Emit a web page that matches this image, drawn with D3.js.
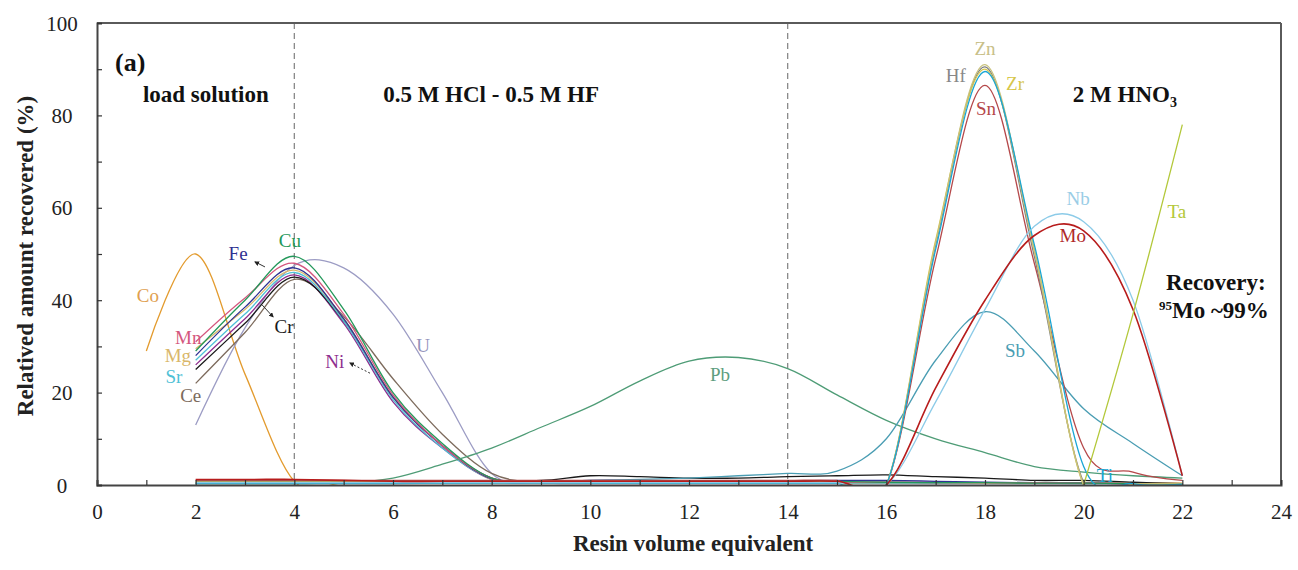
<!DOCTYPE html>
<html>
<head>
<meta charset="utf-8">
<script src="https://cdn.jsdelivr.net/npm/d3@7"></script>
<style>
  html, body { margin: 0; padding: 0; background: #fff; }
  svg { display: block; }
</style>
</head>
<body>
<svg id="chart" width="1298" height="570" font-family="'Liberation Serif', 'DejaVu Serif', serif"></svg>
<script>
// ---------- data ----------
const volumes = [1,2,3,4,5,6,7,8,9,10,11,12,13,14,15,16,17,18,19,20,21,22];
const xTicks = d3.range(0, 25, 1);
const yTicks = d3.range(0, 101, 10);

const Co = [29,50,24,0.8,0.5,0.5,0.4,0.4,0.4,0.4,0.4,0.4,0.4,0.4,0.4,0.4,0.4,0.4,0.4,0.4,0.4,0.4];
const Cu = [null,29,40,49.5,38,20,9,1.5,0.6,0.8,0.8,0.7,0.7,0.8,0.8,0.6,0.5,0.5,0.4,0.4,0.3,0.3];
const Mn = [null,31,40.5,48,37,19.5,8.5,1.5,0.5,0.6,0.6,0.6,0.6,0.6,0.6,0.6,0.5,0.5,0.5,0.4,0.3,0.3];
const Fe = [null,28,38.5,47,36,19,8.5,1.3,0.6,1,1,0.9,0.9,0.9,1,1,0.8,0.6,0.5,0.4,0.3,0.3];
const Mg = [null,29.5,38,46.5,36,19,8.5,1.2,0.4,0.5,0.5,0.5,0.5,0.5,0.5,0.5,0.5,0.4,0.4,0.4,0.3,0.3];
const Sr = [null,27,37,46,35.5,18.5,8,1.2,0.4,0.4,0.4,0.4,0.4,0.4,0.4,0.4,0.4,0.4,0.4,0.3,0.3,0.3];
const Ni = [null,26,36,45.5,35,18,8,1.2,0.4,0.6,0.6,0.6,0.6,0.6,0.6,0.6,0.5,0.5,0.4,0.4,0.3,0.3];
const Cr = [null,25,35,45,35.5,19,8.5,1.5,1,2,1.8,1.5,1.5,1.8,2,2.2,1.8,1.5,1,1,0.6,0.3];
const Ce = [null,22,33,44.5,36.5,23,11,2.5,0.5,0.5,0.5,0.5,0.5,0.5,0.5,0.5,0.5,0.5,0.4,0.4,0.3,0.3];
const U  = [null,13,34,47.5,47,37,20,2.5,0.5,0.3,0.3,0.3,0.3,0.3,0.3,0.3,0.3,0.3,0.3,0.3,0.3,0.3];
const Pb = [null,0.3,0.3,0.3,0.5,1.5,4.5,8,12.5,17,22.5,26.8,27.6,25.2,19.5,14,10,7,4,2.8,2,1.5];
const Sb = [null,0.3,0.3,0.3,0.3,0.3,0.4,0.5,0.8,1,1.2,1.5,2,2.5,3,10,27,37.5,29,16.5,9,2];
const Zn = [null,0.5,0.5,0.5,0.5,0.5,0.5,0.5,0.5,0.5,0.5,0.5,0.5,0.5,0.5,0,52.5,91,50.5,0,0.2,0.2];
const Hf = [null,0.8,0.8,0.8,0.8,0.8,0.8,0.8,0.8,0.8,0.8,0.8,0.8,0.8,0.8,0,52,90.5,49.5,0.5,0.3,0.2];
const Zr = [null,0.6,0.6,0.6,0.6,0.6,0.6,0.6,0.6,0.6,0.6,0.6,0.6,0.6,0.6,0,53,90,51,0,0.2,0.2];
const Ti = [null,0.4,0.4,0.4,0.4,0.4,0.4,0.4,0.4,0.4,0.4,0.4,0.4,0.4,0.4,0,51,89.5,52,4,0.3,0.2];
const Sn = [null,1,1,1,1,1,1,1,1,1,1,1,1,1,1,0,49,86.5,48,8,2.8,1];
const Mo = [null,1.2,1.2,1.2,1,0.8,0.8,0.8,0.8,0.8,0.8,0.8,0.8,0.8,0.8,0,21,40,54,55,38,2];
const Nb = [null,0.5,0.5,0.5,0.5,0.5,0.5,0.5,0.5,0.5,0.5,0.5,0.5,0.5,0.5,0,18,38,56,57,40,2];
const Ta = [null,null,null,null,null,null,null,null,null,null,null,null,null,null,null,null,null,null,null,0,37,78];

const seriesNames = ["Co","U","Ce","Ni","Cr","Sr","Mg","Fe","Mn","Cu","Pb","Sb","Sn","Hf","Zr","Zn","Ti","Nb","Mo","Ta"];
const seriesValues = [Co,U,Ce,Ni,Cr,Sr,Mg,Fe,Mn,Cu,Pb,Sb,Sn,Hf,Zr,Zn,Ti,Nb,Mo,Ta];

// labels: [text, x (volume), y (%)]
const labelNames = ["Co","Mn","Mg","Sr","Ce","Fe","Cu","Cr","Ni","U","Pb","Zn","Hf","Zr","Sn","Nb","Mo","Sb","Ti","Ta"];
const labelX = [1.03,1.85,1.64,1.56,1.9,2.86,3.91,3.79,4.82,6.61,12.63,18.0,17.41,18.61,18.02,19.89,19.78,18.61,20.43,21.89];
const labelY = [39.6,30.6,26.6,22.1,18.0,48.7,51.5,32.9,25.3,28.8,22.5,93.1,87.2,85.5,80.1,60.6,52.6,27.7,0.65,57.8];

// ---------- styles ----------
const FONT = "'Liberation Serif', 'DejaVu Serif', serif";
const colors = {
  Co:"#E39B2E", Mn:"#D4577E", Mg:"#D9B76A", Sr:"#4FC1D6", Ce:"#7D6B5D", Fe:"#2E3192",
  Cu:"#23985A", Cr:"#1A1A1A", Ni:"#8E2D8E", U:"#9C9CC4", Pb:"#4E9C76", Zn:"#C9C27C",
  Hf:"#7F7F7F", Zr:"#D6C64B", Sn:"#B5484A", Ti:"#1AA6D4", Nb:"#8CCBE8", Mo:"#B71C1C",
  Ta:"#B3C83A", Sb:"#4A9DB3"
};
const labelColors = Object.assign({}, colors, {Co:"#E0A050", Zn:"#C8C088", Nb:"#9ACDE6", Mo:"#B02828", Pb:"#5E9E80", U:"#9494BC", Hf:"#888888"});

// ---------- chart ----------
const svg = d3.select("#chart");
const x = d3.scaleLinear().domain([0, 24]).range([97, 1281]);
const y = d3.scaleLinear().domain([0, 100]).range([485, 23]);

svg.append("rect").attr("width", 1298).attr("height", 570).attr("fill", "#fff");

svg.append("defs").append("clipPath").attr("id", "clip")
  .append("rect").attr("x", x(0)).attr("y", y(100)).attr("width", x(24) - x(0)).attr("height", y(0) - y(100));

// dashed separators
[4, 14].forEach(v => {
  svg.append("line")
    .attr("x1", x(v)).attr("x2", x(v)).attr("y1", y(100)).attr("y2", y(0))
    .attr("stroke", "#8a8a8a").attr("stroke-width", 1.3).attr("stroke-dasharray", "6,4");
});

const line = d3.line()
  .defined(d => d[1] !== null)
  .x(d => x(d[0])).y(d => y(d[1]))
  .curve(d3.curveCardinal.tension(0));

const g = svg.append("g").attr("clip-path", "url(#clip)");
seriesNames.forEach((name, i) => {
  const pts = volumes.map((v, j) => [v, seriesValues[i][j]]);
  g.append("path")
    .attr("d", line(pts))
    .attr("fill", "none")
    .attr("stroke", colors[name])
    .attr("stroke-width", name === "Mo" ? 1.6 : 1.3);
});

// frame (top & right)
svg.append("line").attr("x1", x(0)).attr("x2", x(24)).attr("y1", y(100)).attr("y2", y(100))
  .attr("stroke", "#5a5a5a").attr("stroke-width", 2);
svg.append("line").attr("x1", x(24)).attr("x2", x(24)).attr("y1", y(100)).attr("y2", y(0))
  .attr("stroke", "#5a5a5a").attr("stroke-width", 2);

// axes
const xAxis = svg.append("g").attr("transform", `translate(0,${y(0)})`)
  .call(d3.axisBottom(x).tickValues(xTicks).tickSize(-5).tickFormat(d => d % 2 === 0 ? d : ""));
const yAxis = svg.append("g").attr("transform", `translate(${x(0)},0)`)
  .call(d3.axisLeft(y).tickValues(yTicks).tickSize(-5).tickFormat(d => d % 20 === 0 ? d : ""));
[xAxis, yAxis].forEach(a => {
  a.attr("font-family", FONT).attr("font-size", 21);
  a.select(".domain").attr("stroke", "#444").attr("stroke-width", 2);
  a.selectAll(".tick line").attr("stroke", "#333").attr("stroke-width", 1.2);
});
xAxis.selectAll("text").attr("y", 34).attr("dy", 0)
  .style("font-family", FONT).style("font-size", "21px").attr("fill", "#222");
yAxis.selectAll("text").attr("x", -35).attr("dy", "0.34em").attr("text-anchor", "middle")
  .style("font-family", FONT).style("font-size", "21px").attr("fill", "#222");

// axis titles
svg.append("text").attr("x", 693).attr("y", 551).attr("text-anchor", "middle")
  .style("font-family", FONT).style("font-size", "23px").style("font-weight", "bold").attr("fill", "#222")
  .text("Resin volume equivalent");
svg.append("text").attr("transform", "translate(33,256) rotate(-90)").attr("text-anchor", "middle")
  .style("font-family", FONT).style("font-size", "23px").style("font-weight", "bold").attr("fill", "#222")
  .text("Relatived amount recovered (%)");

// section annotations
const ann = svg.append("g").attr("fill", "#111").style("font-weight", "bold").style("font-family", FONT);
ann.append("text").attr("x", x(0.365)).attr("y", y(89.6)).style("font-size", "26px").text("(a)");
ann.append("text").attr("x", x(0.93)).attr("y", y(82.9)).style("font-size", "23px").text("load solution");
ann.append("text").attr("x", x(5.8)).attr("y", y(82.9)).style("font-size", "23px").text("0.5 M HCl - 0.5 M HF");
const hno = ann.append("text").attr("x", x(19.78)).attr("y", y(82.9)).style("font-size", "23px");
hno.append("tspan").text("2 M HNO");
hno.append("tspan").attr("dy", 5).style("font-size", "14px").text("3");
ann.append("text").attr("x", x(22.68)).attr("y", y(42.2)).attr("text-anchor", "middle").style("font-size", "23px").text("Recovery:");
const rec = ann.append("text").attr("x", x(22.64)).attr("y", y(36.1)).attr("text-anchor", "middle").style("font-size", "23px");
rec.append("tspan").attr("dy", -8).style("font-size", "13px").text("95");
rec.append("tspan").attr("dy", 8).text("Mo ~99%");

// element labels
labelNames.forEach((n, i) => {
  svg.append("text").attr("x", x(labelX[i])).attr("y", y(labelY[i]))
    .attr("text-anchor", "middle").style("font-family", FONT).style("font-size", "19px")
    .attr("fill", labelColors[n]).text(n);
});

// leader arrows
svg.append("defs").append("marker").attr("id", "ah").attr("viewBox", "0 0 10 10")
  .attr("refX", 8).attr("refY", 5).attr("markerWidth", 5).attr("markerHeight", 5).attr("orient", "auto")
  .append("path").attr("d", "M0,0 L10,5 L0,10 z").attr("fill", "#222");
const arrowsFrom = [[3.405, 47.2], [3.345, 39.0], [5.534, 24.2]];
const arrowsTo   = [[3.203, 48.3], [3.568, 36.4], [5.128, 26.4]];
arrowsFrom.forEach((f, i) => {
  svg.append("line").attr("x1", x(f[0])).attr("y1", y(f[1]))
    .attr("x2", x(arrowsTo[i][0])).attr("y2", y(arrowsTo[i][1]))
    .attr("stroke", "#333").attr("stroke-width", 1).attr("stroke-dasharray", i === 2 ? "2,2" : null)
    .attr("marker-end", "url(#ah)");
});
</script>
</body>
</html>
